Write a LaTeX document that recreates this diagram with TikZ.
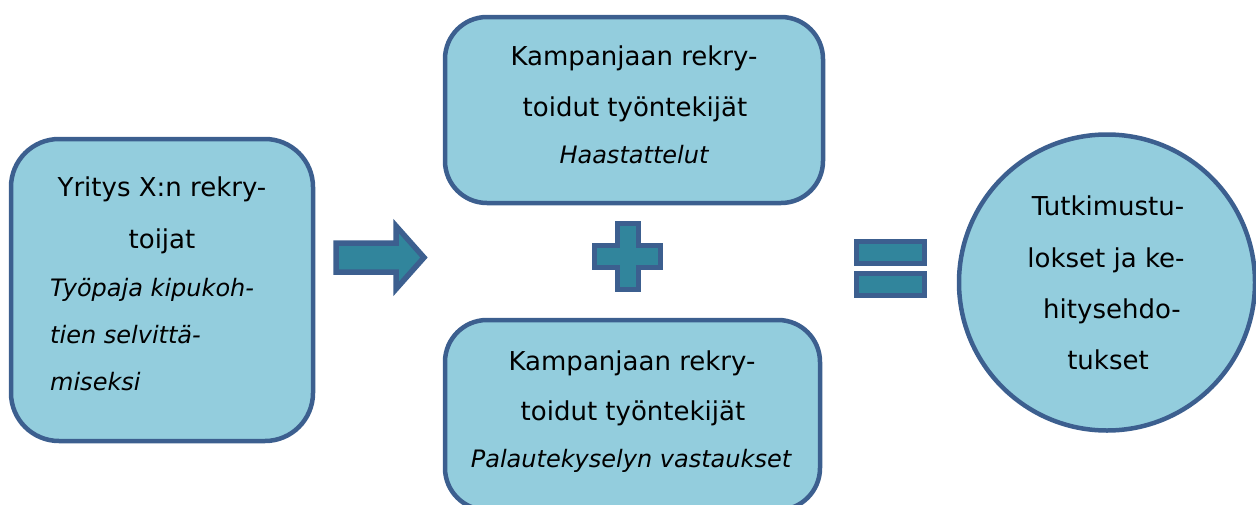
\documentclass[tikz,border=0pt]{standalone}
\usepackage{fontspec}
\setmainfont{DejaVu Sans}
\definecolor{boxfill}{HTML}{93CDDD}
\definecolor{boxline}{HTML}{3C5F8F}
\definecolor{symfill}{HTML}{31859C}
\begin{document}
\begin{tikzpicture}[x=1pt,y=-1pt,
  shapebase/.style={draw=boxline, line width=4.5pt, fill=boxfill, inner sep=0pt},
  box/.style={shapebase, rectangle, rounded corners=42pt},
  roundbox/.style={shapebase, circle},
  up/.style={font=\fontsize{26}{30}\selectfont, anchor=base, inner sep=0pt},
  it/.style={font=\fontsize{24}{28}\selectfont\itshape, anchor=base, inner sep=0pt},
  sym/.style={draw=boxline, line width=5.5pt, fill=symfill, line join=miter}]
\useasboundingbox (0,0) rectangle (1256,504);
\clip (0,0) rectangle (1256,504);

% boxes
\node[box, rounded corners=48pt, minimum width=302pt, minimum height=302pt] (left) at (162,290) {};
\node[box, minimum width=378pt, minimum height=186pt] (top) at (634,110) {};
\node[box, minimum width=375pt, minimum height=190pt] (bottom) at (632.5,415) {};
\node[roundbox, minimum size=296pt] (res) at (1107,282.5) {};

% left box text
\node[up] (l1) at (162,196) {Yritys X:n rekry-};
\node[up] (l2) at (162,248) {toijat};
\node[it, anchor=base west] (l3) at (50,296) {Työpaja kipukoh-};
\node[it, anchor=base west] (l4) at (50,343) {tien selvittä-};
\node[it, anchor=base west] (l5) at (50,390) {miseksi};

% top box text
\node[up] (t1) at (634,65) {Kampanjaan rekry-};
\node[up] (t2) at (635,116) {toidut työntekijät};
\node[it] (t3) at (634,163) {Haastattelut};

% bottom box text
\node[up] (b1) at (632,370) {Kampanjaan rekry-};
\node[up] (b2) at (633,420) {toidut työntekijät};
\node[it] (b3) at (631,467) {Palautekyselyn vastaukset};

% circle text
\node[up] (r1) at (1108,215) {Tutkimustu-};
\node[up] (r2) at (1106,267) {lokset ja ke-};
\node[up] (r3) at (1112,318) {hitysehdo-};
\node[up] (r4) at (1108,369) {tukset};

% arrow
\draw[sym] (336,243) -- (396,243) -- (396,226) -- (424,257.5) -- (396,289) -- (396,272) -- (336,272) -- cycle;
% plus
\draw[sym] (617.5,223.5) -- (638.5,223.5) -- (638.5,245.5) -- (660.5,245.5) -- (660.5,267.5)
  -- (638.5,267.5) -- (638.5,289.5) -- (617.5,289.5) -- (617.5,267.5) -- (594.5,267.5)
  -- (594.5,245.5) -- (617.5,245.5) -- cycle;
% equals
\draw[sym] (856.5,241.5) rectangle (924.5,263.5);
\draw[sym] (856.5,273.5) rectangle (924.5,295.5);
\end{tikzpicture}
\end{document}
